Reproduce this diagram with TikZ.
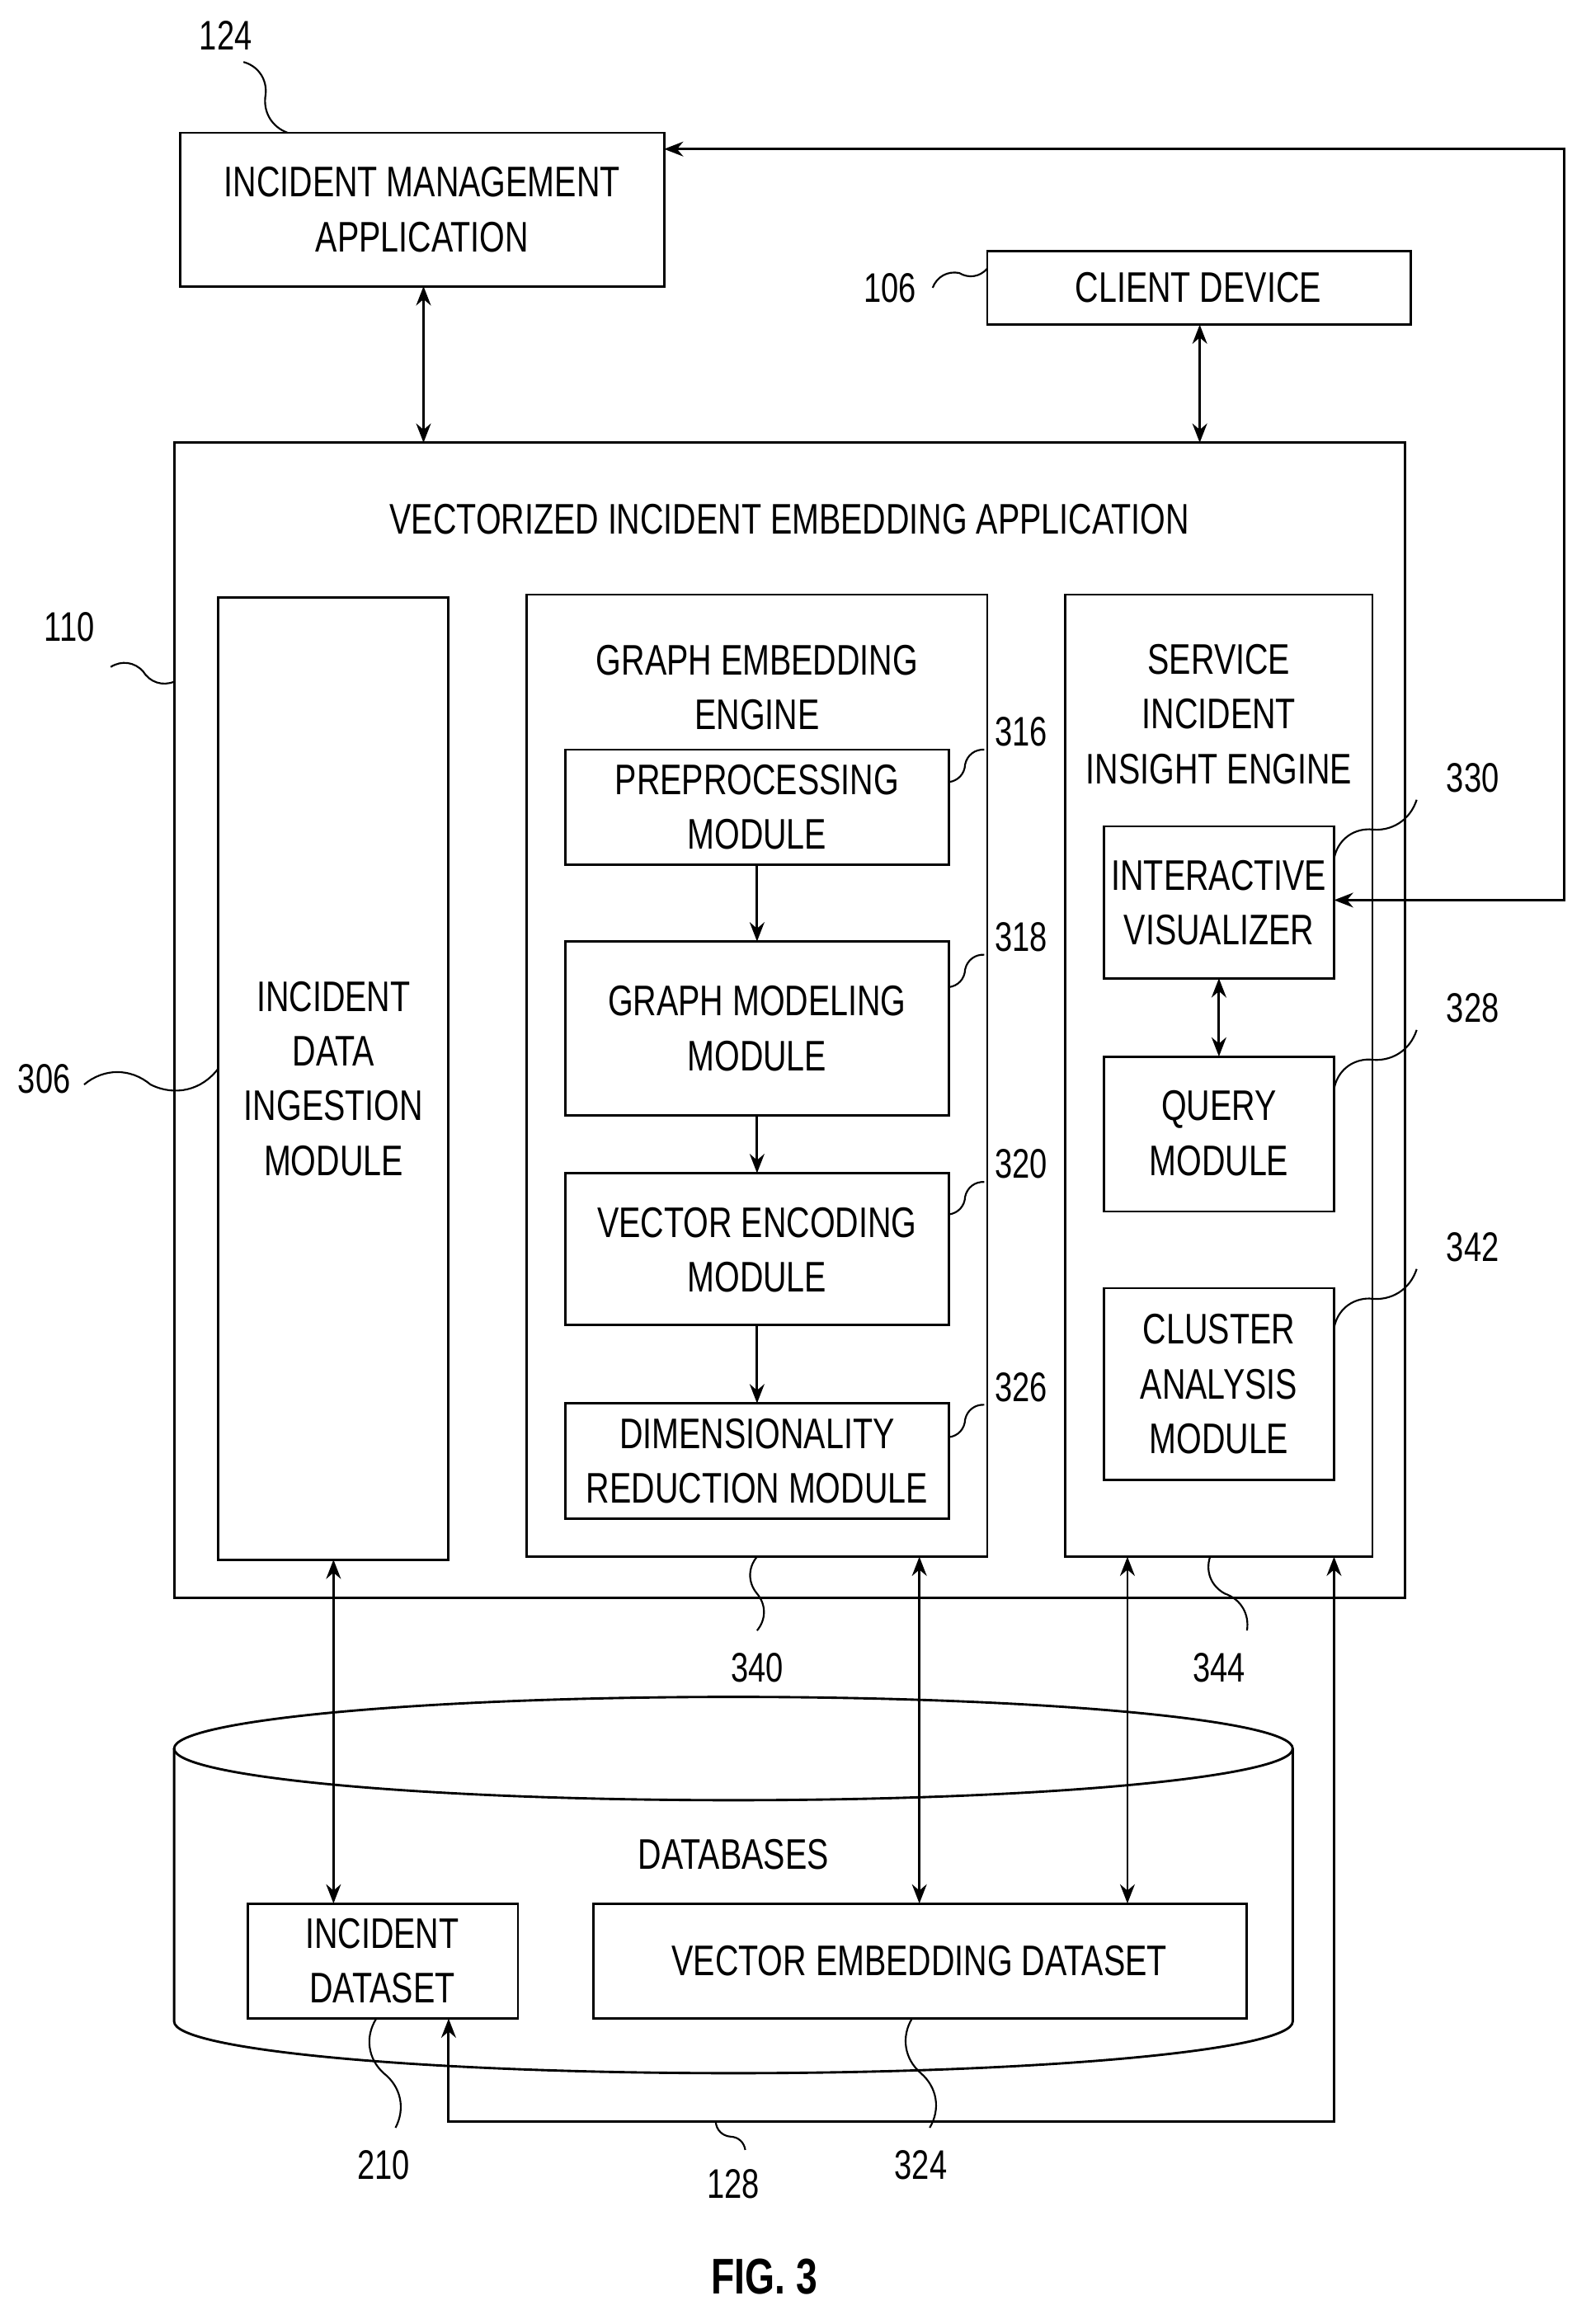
\documentclass[tikz,border=0pt]{standalone}
\usepackage{fontspec}
\setmainfont{Liberation Sans}[FakeStretch=0.76]
\usetikzlibrary{arrows.meta,calc}
\begin{document}
\begin{tikzpicture}[x=1pt,y=-1pt,line width=1.6pt,
 box/.style={draw},
 txt/.style={align=center,font=\fontsize{29}{37}\selectfont},
 lab/.style={font=\fontsize{28}{34}\selectfont},
 ar/.style={-{Stealth[length=13,width=10]}},
 dar/.style={{Stealth[length=13,width=10]}-{Stealth[length=13,width=10]}},
 sq/.style={line width=1.2pt}]
\useasboundingbox (0,0) rectangle (1078,1575);
% top
\draw[box] (122,90) rectangle (450,194);
\node[txt] (ima) at (286,142) {INCIDENT MANAGEMENT\\APPLICATION};
\node[lab] (l124) at (153,24) {124};
\draw[sq] (165,42) to[bend left=40] (180,64) to[bend right=40] (195,90);
\draw[box] (669,170) rectangle (956,220);
\node[txt] (cd) at (812,195) {CLIENT DEVICE};
\node[lab] (l106) at (603,195) {106};
\draw[sq] (632,195) to[bend left=40] (650,185) to[bend right=40] (669,182);
% outer
\draw[box] (118,300) rectangle (952,1083);
\node[txt] (vie) at (535,352) {VECTORIZED INCIDENT EMBEDDING APPLICATION};
\node[lab] (l110) at (47,425) {110};
\draw[sq] (75,452) to[bend left=40] (97,455) to[bend right=40] (118,462);
\draw[dar] (287,194) -- (287,300);
\draw[dar] (813,220) -- (813,300);
% ingestion
\draw[box] (148,405) rectangle (304,1057);
\node[txt] (idi) at (226,731) {INCIDENT\\DATA\\INGESTION\\MODULE};
\node[lab] (l306) at (30,731) {306};
\draw[sq] (57,735) to[bend left=40] (102,735) to[bend right=40] (148,724);
% graph engine
\draw[box] (357,403) rectangle (669,1055);
\node[txt] at (513,466) {GRAPH EMBEDDING\\ENGINE};
\draw[box] (383,508) rectangle (643,586);
\node[txt] (pre) at (513,547) {PREPROCESSING\\MODULE};
\draw[box] (383,638) rectangle (643,756);
\node[txt] (gm) at (513,697) {GRAPH MODELING\\MODULE};
\draw[box] (383,795) rectangle (643,898);
\node[txt] (ve) at (513,847) {VECTOR ENCODING\\MODULE};
\draw[box] (383,951) rectangle (643,1029);
\node[txt] (dr) at (513,990) {DIMENSIONALITY\\REDUCTION MODULE};
\draw[ar] (513,586) -- (513,638);
\draw[ar] (513,756) -- (513,795);
\draw[ar] (513,898) -- (513,951);
\foreach \y/\n in {508/316,647/318,801/320,952/326}{
 \node[lab] at (692,\y-12) {\n};
 \draw[sq] (643,\y+22) to[bend right=40] (654,\y+10) to[bend left=40] (667,\y);
}
% service engine
\draw[box] (722,403) rectangle (930,1055);
\node[txt] at (826,484) {SERVICE\\INCIDENT\\INSIGHT ENGINE};
\draw[box] (748,560) rectangle (904,663);
\node[txt] (iv) at (826,612) {INTERACTIVE\\VISUALIZER};
\draw[box] (748,716) rectangle (904,821);
\node[txt] (qm) at (826,768) {QUERY\\MODULE};
\draw[box] (748,873) rectangle (904,1003);
\node[txt] (ca) at (826,938) {CLUSTER\\ANALYSIS\\MODULE};
\draw[dar] (826,663) -- (826,716);
\foreach \y/\n in {582/330,738/328,900/342}{
 \node[lab] at (998,\y-55) {\n};
 \draw[sq] (904,\y) to[bend left=40] (928,\y-20) to[bend right=40] (960,\y-40);
}
\draw[dar] (450,101) -- (1060,101) -- (1060,610) -- (904,610);
% cylinder
\draw (118,1185) -- (118,1370) arc[start angle=180,end angle=0,x radius=379,y radius=35] -- (876,1185);
\draw (497,1185) ellipse[x radius=379,y radius=35];
\node[txt] (db) at (497,1257) {DATABASES};
\draw[box] (168,1290) rectangle (351,1368);
\node[txt] (ids) at (259,1329) {INCIDENT\\DATASET};
\draw[box] (402,1290) rectangle (845,1368);
\node[txt] (ved) at (623,1329) {VECTOR EMBEDDING DATASET};
\draw[dar] (226,1057) -- (226,1290);
\draw[dar] (623,1055) -- (623,1290);
\draw[dar] (764,1055) -- (764,1290);
\draw[dar] (304,1368) -- (304,1438) -- (904,1438) -- (904,1055);
% leaders bottom
\node[lab] at (513,1130) {340};
\draw[sq] (513,1055) to[bend right=40] (513,1080) to[bend left=40] (513,1105);
\node[lab] at (826,1130) {344};
\draw[sq] (820,1055) to[bend right=40] (830,1080) to[bend left=40] (845,1105);
\node[lab] at (260,1467) {210};
\draw[sq] (255,1368) to[bend right=40] (260,1405) to[bend left=40] (268,1442);
\node[lab] at (624,1467) {324};
\draw[sq] (618,1368) to[bend right=40] (624,1405) to[bend left=40] (630,1442);
\node[lab] at (497,1480) {128};
\draw[sq] (485,1438) to[bend right=40] (495,1448) to[bend left=40] (505,1457);
\node[font=\bfseries\fontsize{34}{40}\selectfont] at (518,1543) {FIG. 3};
\end{tikzpicture}
\end{document}
